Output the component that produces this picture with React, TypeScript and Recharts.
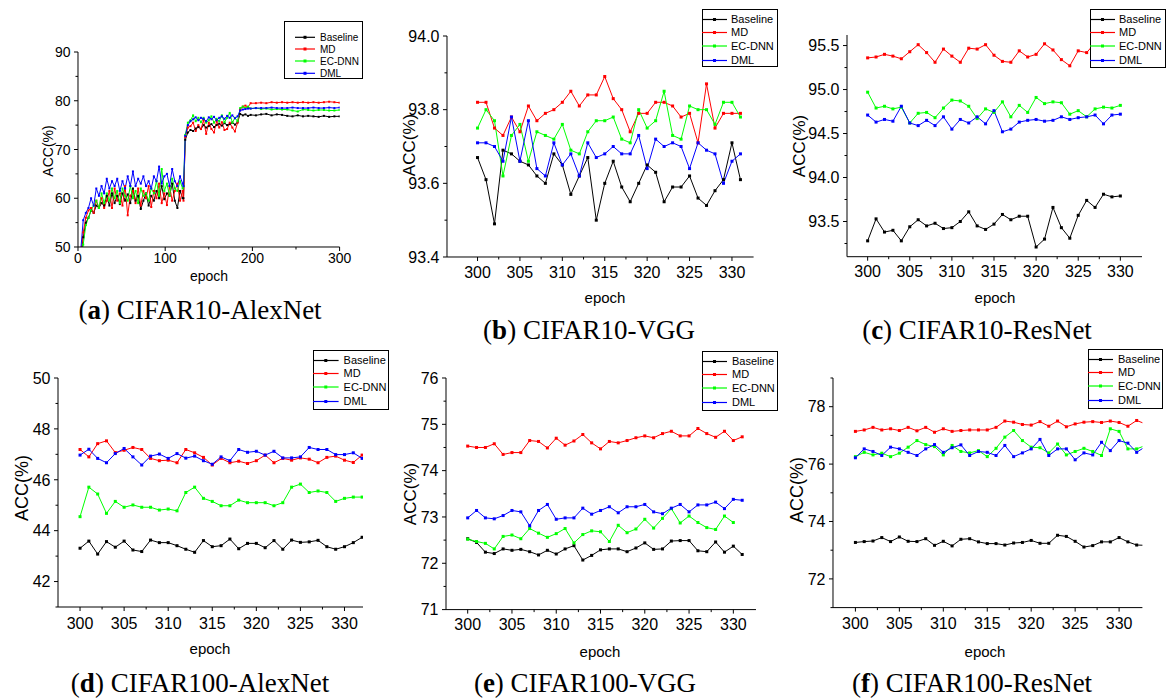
import React from 'react';
import { LineChart, Line, XAxis, YAxis } from 'recharts';

const SANS = '"Liberation Sans", Arial, sans-serif';
const SERIF = '"Liberation Serif", "Times New Roman", serif';

const seriesNames = ['Baseline', 'MD', 'EC-DNN', 'DML'];
const seriesColors = ['#000000', '#ff0000', '#00ff00', '#0000ff'];

// (a) CIFAR10-AlexNet
const epochsA = [3, 6, 9, 12, 15, 18, 21, 24, 27, 30, 33, 36, 39, 42, 45, 48, 51, 54, 57, 60, 63, 66, 69, 72, 75, 78, 81, 84, 87, 90, 93, 96, 99, 102, 105, 108, 111, 114, 117, 120, 121, 123, 126, 129, 132, 135, 138, 141, 144, 147, 150, 153, 156, 159, 162, 165, 168, 171, 174, 177, 180, 183, 186, 189, 192, 195, 198, 204, 210, 216, 222, 228, 234, 240, 246, 252, 258, 264, 270, 276, 282, 288, 294, 300];
const baselineA = [47, 52, 55, 56, 57.5, 57, 58.5, 58, 59, 58.5, 60.5, 58.5, 61, 59, 60.5, 58.8, 61, 59.5, 60.8, 59, 62, 59.5, 60.5, 57.8, 59.5, 61, 58.5, 60.5, 59.5, 61.5, 60, 62.5, 59.8, 61, 60.5, 63, 59.5, 58, 61.5, 60, 60, 72, 73.5, 74, 73.8, 74.3, 74.6, 74.2, 75, 74.5, 74.8, 75.2, 74.6, 75, 75.3, 74.9, 75.4, 75, 75.2, 75.5, 75.1, 75.6, 77.3, 77, 77.2, 76.9, 77.1, 77, 77.2, 77.3, 77, 77.2, 77.1, 76.9, 76.8, 77, 76.8, 76.9, 76.8, 76.7, 76.9, 76.7, 76.8, 76.8];
const mdA = [48, 53, 56, 57.5, 58, 57, 59.5, 58, 60, 58, 59.5, 61.5, 58, 62, 59.5, 61, 58.5, 62.5, 56.5, 60.5, 61.5, 59, 62, 58.5, 61.5, 60, 62.5, 58.2, 61.5, 60, 63, 59, 61, 58.6, 62.5, 59.5, 61.5, 63, 59.5, 61.5, 59.5, 72.5, 74.5, 74.8, 75.5, 73.8, 75, 74.2, 76, 73.2, 75.5, 74.2, 73.5, 75.8, 74.5, 75.6, 74, 74.2, 75.5, 74.5, 73.7, 75.5, 78.2, 78.8, 79, 78.7, 79.5, 79.5, 79.6, 79.5, 79.7, 79.6, 79.7, 79.6, 79.7, 79.6, 79.7, 79.6, 79.7, 79.6, 79.7, 79.8, 79.7, 79.6];
const ecdnnA = [46, 50.5, 54.5, 56, 57.5, 58.5, 59.5, 58, 61, 59, 61, 59.5, 62, 60, 61.5, 59, 62, 60.5, 59.5, 62.5, 60, 61.5, 59, 62, 60.5, 61, 59.5, 62, 61, 63.5, 60.5, 66, 61.5, 63, 60.5, 64, 62, 61.5, 63.5, 62, 62.5, 73, 75.5, 76, 77, 75.8, 76.5, 75.6, 76.5, 75.5, 76, 76.8, 75.5, 76.3, 75.8, 77, 75.6, 76.5, 77.5, 75.5, 76.5, 75.8, 78.5, 78.8, 78.5, 78.8, 78.4, 78.5, 78.3, 78.4, 78.2, 78.3, 78.2, 78.2, 78, 77.8, 78.2, 78.1, 78, 78.1, 78.1, 78, 78, 78.1];
const dmlA = [49, 55.5, 57, 58, 60, 58.5, 62, 60.5, 62.5, 61, 64, 62, 63.5, 62.5, 64, 61.5, 63.5, 62, 64.5, 62.5, 65.5, 62.5, 64, 63, 64.5, 62.5, 63.5, 62, 64.5, 63.5, 66.5, 63, 64.5, 65, 62.5, 66, 63.5, 62.5, 64.5, 63, 62.5, 72.8, 75, 75.8, 76.2, 76.6, 76, 76.5, 76.3, 75.8, 76.6, 76.2, 76.7, 76, 76.5, 76.8, 76.3, 76.9, 76.5, 77, 76.4, 76.8, 78, 78.2, 78.3, 78.4, 78.4, 78.5, 78.5, 78.5, 78.6, 78.5, 78.5, 78.5, 78.6, 78.5, 78.5, 78.5, 78.6, 78.5, 78.5, 78.6, 78.5, 78.6];

// (b) CIFAR10-VGG
const epochsB = [300, 301, 302, 303, 304, 305, 306, 307, 308, 309, 310, 311, 312, 313, 314, 315, 316, 317, 318, 319, 320, 321, 322, 323, 324, 325, 326, 327, 328, 329, 330, 331];
const baselineB = [93.67, 93.61, 93.49, 93.69, 93.68, 93.66, 93.65, 93.62, 93.6, 93.68, 93.65, 93.57, 93.62, 93.67, 93.5, 93.6, 93.66, 93.59, 93.55, 93.6, 93.65, 93.63, 93.55, 93.59, 93.59, 93.62, 93.56, 93.54, 93.58, 93.61, 93.71, 93.61];
const mdB = [93.82, 93.82, 93.75, 93.73, 93.78, 93.74, 93.81, 93.77, 93.79, 93.8, 93.82, 93.85, 93.81, 93.84, 93.84, 93.89, 93.83, 93.8, 93.74, 93.79, 93.79, 93.82, 93.82, 93.81, 93.78, 93.79, 93.71, 93.87, 93.75, 93.79, 93.79, 93.79];
const ecdnnB = [93.75, 93.8, 93.77, 93.62, 93.73, 93.76, 93.66, 93.74, 93.73, 93.72, 93.76, 93.69, 93.68, 93.74, 93.77, 93.77, 93.78, 93.72, 93.71, 93.8, 93.75, 93.77, 93.85, 93.73, 93.72, 93.81, 93.8, 93.8, 93.76, 93.82, 93.82, 93.78];
const dmlB = [93.71, 93.71, 93.7, 93.66, 93.78, 93.66, 93.77, 93.64, 93.62, 93.71, 93.65, 93.68, 93.62, 93.71, 93.67, 93.68, 93.7, 93.68, 93.68, 93.73, 93.64, 93.72, 93.7, 93.71, 93.7, 93.64, 93.71, 93.69, 93.68, 93.6, 93.66, 93.68];

// (c) CIFAR10-ResNet
const epochsC = [300, 301, 302, 303, 304, 305, 306, 307, 308, 309, 310, 311, 312, 313, 314, 315, 316, 317, 318, 319, 320, 321, 322, 323, 324, 325, 326, 327, 328, 329, 330];
const baselineC = [93.28, 93.53, 93.38, 93.4, 93.28, 93.44, 93.52, 93.45, 93.48, 93.42, 93.43, 93.5, 93.61, 93.45, 93.41, 93.47, 93.58, 93.52, 93.56, 93.56, 93.21, 93.3, 93.66, 93.43, 93.31, 93.57, 93.74, 93.66, 93.81, 93.78, 93.79];
const mdC = [95.36, 95.37, 95.4, 95.38, 95.35, 95.43, 95.51, 95.42, 95.31, 95.46, 95.38, 95.31, 95.47, 95.46, 95.51, 95.39, 95.32, 95.31, 95.44, 95.37, 95.4, 95.52, 95.45, 95.34, 95.27, 95.44, 95.42, 95.53, 95.45, 95.4, 95.42];
const ecdnnC = [94.97, 94.79, 94.81, 94.78, 94.8, 94.62, 94.73, 94.74, 94.68, 94.79, 94.88, 94.87, 94.81, 94.67, 94.78, 94.74, 94.86, 94.69, 94.82, 94.74, 94.91, 94.84, 94.86, 94.85, 94.72, 94.76, 94.69, 94.78, 94.8, 94.79, 94.82];
const dmlC = [94.71, 94.63, 94.66, 94.64, 94.81, 94.62, 94.59, 94.65, 94.59, 94.69, 94.55, 94.66, 94.62, 94.69, 94.61, 94.76, 94.52, 94.55, 94.63, 94.65, 94.66, 94.64, 94.65, 94.69, 94.66, 94.68, 94.69, 94.71, 94.61, 94.71, 94.72];

// (d) CIFAR100-AlexNet
const epochsD = [300, 301, 302, 303, 304, 305, 306, 307, 308, 309, 310, 311, 312, 313, 314, 315, 316, 317, 318, 319, 320, 321, 322, 323, 324, 325, 326, 327, 328, 329, 330, 331, 332];
const baselineD = [43.31, 43.59, 43.08, 43.57, 43.35, 43.59, 43.24, 43.18, 43.63, 43.53, 43.53, 43.41, 43.27, 43.15, 43.61, 43.37, 43.41, 43.67, 43.29, 43.5, 43.5, 43.33, 43.61, 43.27, 43.63, 43.54, 43.56, 43.62, 43.37, 43.27, 43.37, 43.53, 43.74];
const mdD = [47.19, 46.9, 47.42, 47.53, 47.07, 47.16, 47.27, 47.19, 46.84, 46.75, 46.77, 46.67, 47.19, 47.06, 46.88, 46.58, 46.84, 46.67, 46.73, 46.64, 46.75, 46.97, 46.67, 46.84, 46.77, 46.86, 46.81, 46.67, 46.88, 46.93, 46.77, 46.68, 46.97];
const ecdnnD = [44.55, 45.71, 45.44, 44.68, 45.15, 44.92, 45.01, 44.92, 44.92, 44.81, 44.85, 44.78, 45.5, 45.71, 45.27, 45.15, 44.98, 44.98, 45.2, 45.1, 45.1, 45.1, 44.98, 45.1, 45.71, 45.83, 45.5, 45.56, 45.5, 45.15, 45.27, 45.32, 45.32];
const dmlD = [46.97, 47.2, 46.84, 46.67, 47.03, 47.23, 46.9, 46.58, 46.93, 47.01, 46.84, 47.03, 46.85, 46.93, 46.75, 46.61, 46.9, 46.75, 47.19, 47.08, 47.12, 46.97, 47.12, 46.86, 46.86, 46.9, 47.27, 47.19, 47.19, 46.99, 46.99, 47.06, 46.84];

// (e) CIFAR100-VGG
const epochsE = [300, 301, 302, 303, 304, 305, 306, 307, 308, 309, 310, 311, 312, 313, 314, 315, 316, 317, 318, 319, 320, 321, 322, 323, 324, 325, 326, 327, 328, 329, 330, 331];
const baselineE = [72.53, 72.45, 72.24, 72.21, 72.31, 72.28, 72.3, 72.25, 72.18, 72.28, 72.2, 72.31, 72.38, 72.07, 72.17, 72.29, 72.31, 72.31, 72.25, 72.33, 72.44, 72.3, 72.31, 72.48, 72.49, 72.49, 72.27, 72.25, 72.46, 72.24, 72.37, 72.19];
const mdE = [74.53, 74.5, 74.5, 74.58, 74.35, 74.39, 74.39, 74.65, 74.63, 74.49, 74.7, 74.55, 74.64, 74.78, 74.6, 74.47, 74.63, 74.6, 74.65, 74.71, 74.75, 74.71, 74.8, 74.85, 74.75, 74.75, 74.91, 74.8, 74.72, 74.85, 74.65, 74.73];
const ecdnnE = [72.52, 72.47, 72.43, 72.31, 72.58, 72.61, 72.53, 72.75, 72.65, 72.56, 72.64, 72.75, 72.44, 72.62, 72.7, 72.68, 72.47, 72.82, 72.66, 72.74, 72.95, 72.76, 72.97, 73.18, 72.87, 73.02, 72.88, 72.77, 72.73, 73.02, 72.88];
const dmlE = [72.98, 73.14, 72.98, 72.96, 73.03, 73.14, 73.11, 72.81, 73.14, 73.27, 72.95, 72.98, 72.98, 73.19, 73.06, 73.14, 73.22, 73.09, 73.22, 73.22, 73.27, 73.11, 73.07, 73.19, 73.27, 73.11, 73.26, 73.26, 73.32, 73.18, 73.38, 73.36];

// (f) CIFAR100-ResNet
const epochsF = [300, 301, 302, 303, 304, 305, 306, 307, 308, 309, 310, 311, 312, 313, 314, 315, 316, 317, 318, 319, 320, 321, 322, 323, 324, 325, 326, 327, 328, 329, 330, 331, 332, 333];
const baselineF = [73.27, 73.3, 73.32, 73.44, 73.3, 73.46, 73.31, 73.3, 73.4, 73.17, 73.31, 73.15, 73.38, 73.4, 73.29, 73.23, 73.23, 73.18, 73.25, 73.27, 73.34, 73.24, 73.24, 73.52, 73.48, 73.31, 73.11, 73.16, 73.29, 73.29, 73.44, 73.29, 73.18, 73.17];
const mdF = [77.14, 77.19, 77.28, 77.19, 77.23, 77.17, 77.28, 77.16, 77.28, 77.11, 77.23, 77.14, 77.17, 77.19, 77.19, 77.19, 77.28, 77.5, 77.46, 77.38, 77.36, 77.48, 77.32, 77.5, 77.3, 77.4, 77.46, 77.48, 77.45, 77.5, 77.45, 77.32, 77.52, 77.4];
const ecdnnF = [76.26, 76.41, 76.32, 76.38, 76.26, 76.38, 76.59, 76.82, 76.68, 76.61, 76.32, 76.65, 76.44, 76.39, 76.47, 76.26, 76.55, 76.94, 77.17, 76.82, 76.59, 76.57, 76.39, 76.7, 76.32, 76.44, 76.55, 76.44, 76.3, 77.23, 77.14, 76.53, 76.53, 76.65];
const dmlF = [76.22, 76.53, 76.44, 76.3, 76.59, 76.53, 76.41, 76.3, 76.53, 76.68, 76.41, 76.57, 76.67, 76.3, 76.44, 76.41, 76.3, 76.65, 76.26, 76.39, 76.53, 76.86, 76.3, 76.53, 76.53, 76.15, 76.39, 76.32, 76.76, 76.47, 76.82, 76.73, 76.41, 76.61];

const toRows = (epochs: number[], b: number[], m: number[], e: number[], d: number[]) =>
  epochs.map((ep, i) => ({ epoch: ep, Baseline: b[i], MD: m[i], 'EC-DNN': e[i], DML: d[i] }));

const XTick = (props: any) => {
  const { x, y, payload, majors, fs, labelDy } = props;
  const major = majors.includes(payload.value);
  return (
    <g>
      <line x1={x} y1={y} x2={x} y2={y + (major ? 4 : 2.5)} stroke="#000" strokeWidth={1} />
      {major && (
        <text x={x} y={y + labelDy} textAnchor="middle" fontSize={fs} fontFamily={SANS} fill="#000">
          {payload.value}
        </text>
      )}
    </g>
  );
};

const YTick = (props: any) => {
  const { x, y, payload, majors, fs, digits } = props;
  const major = majors.includes(payload.value);
  return (
    <g>
      <line x1={x - (major ? 4 : 2.5)} y1={y} x2={x} y2={y} stroke="#000" strokeWidth={1} />
      {major && (
        <text x={x - 7.5} y={y} dy="0.36em" textAnchor="end" fontSize={fs} fontFamily={SANS} fill="#000">
          {payload.value.toFixed(digits)}
        </text>
      )}
    </g>
  );
};

const SquareDot = (props: any) => {
  const { cx, cy, stroke, size, index } = props;
  if (cx == null || cy == null) return <g key={`n-${index}`} />;
  return <rect key={`d-${index}`} x={cx - size / 2} y={cy - size / 2} width={size} height={size} fill={stroke} />;
};

function LegendBox(p: any) {
  return (
    <div style={{ position: 'absolute', left: p.left, top: p.top, width: p.width, height: p.height, border: '1px solid #000', background: '#fff', boxSizing: 'border-box' }}>
      <svg width={p.width} height={p.height} style={{ position: 'absolute', left: -1, top: -1, overflow: 'visible' }}>
        {seriesNames.map((n, i) => (
          <g key={n}>
            <line x1={p.lineX0} x2={p.lineX1} y1={p.rows[i]} y2={p.rows[i]} stroke={seriesColors[i]} strokeWidth={1.2} />
            <rect x={(p.lineX0 + p.lineX1) / 2 - 1.5} y={p.rows[i] - 1.5} width={3} height={3} fill={seriesColors[i]} />
            <text x={p.textX} y={p.rows[i]} dy="0.36em" fontSize={p.fs} fontFamily={SANS} fill="#000">{n}</text>
          </g>
        ))}
      </svg>
    </div>
  );
}

function Panel(p: any) {
  const YW = 60, MT = 12, MR = 14, XH = 34;
  const plotW = p.right - p.ax;
  const plotH = p.bottom - p.top;
  return (
    <>
      <div style={{ position: 'absolute', left: p.ax - YW, top: p.top - MT }}>
        <LineChart width={YW + plotW + MR} height={MT + plotH + XH} data={p.data} margin={{ top: MT, right: MR, bottom: 0, left: 0 }}>
          <XAxis
            dataKey="epoch"
            type="number"
            domain={p.xDomain}
            allowDataOverflow
            ticks={[...p.xMajor, ...p.xMinor]}
            interval={0}
            tickSize={0}
            tickMargin={0}
            height={XH}
            axisLine={{ stroke: '#000', strokeWidth: 1 }}
            tickLine={false}
            tick={(t: any) => <XTick {...t} majors={p.xMajor} fs={p.fs} labelDy={p.xLabelDy} />}
          />
          <YAxis
            type="number"
            domain={p.yDomain}
            allowDataOverflow
            ticks={[...p.yMajor, ...p.yMinor]}
            interval={0}
            tickSize={0}
            tickMargin={0}
            width={YW}
            axisLine={{ stroke: '#000', strokeWidth: 1 }}
            tickLine={false}
            tick={(t: any) => <YTick {...t} majors={p.yMajor} fs={p.fs} digits={p.digits} />}
          />
          {seriesNames.map((n, i) => (
            <Line
              key={n}
              type="linear"
              dataKey={n}
              stroke={seriesColors[i]}
              strokeWidth={1}
              dot={(d: any) => <SquareDot {...d} size={p.dotSize} />}
              activeDot={false}
              isAnimationActive={false}
            />
          ))}
        </LineChart>
      </div>
      <div style={{ position: 'absolute', left: p.accX, top: p.accY, transform: 'translate(-50%,-50%) rotate(-90deg)', fontFamily: SANS, fontSize: p.accFs, whiteSpace: 'nowrap', lineHeight: 1 }}>
        ACC(%)
      </div>
      <div style={{ position: 'absolute', left: p.epochX, top: p.epochY, transform: 'translate(-50%,-50%)', fontFamily: SANS, fontSize: p.epochFs, whiteSpace: 'nowrap', lineHeight: 1 }}>
        epoch
      </div>
      <LegendBox {...p.legend} />
      <div style={{ position: 'absolute', left: p.capX, top: p.capY, transform: 'translateX(-50%)', fontFamily: SERIF, fontSize: 27, lineHeight: '27px', whiteSpace: 'nowrap', color: '#000' }}>
        (<b>{p.capLetter}</b>) {p.capText}
      </div>
    </>
  );
}

const xMajorLate = [300, 305, 310, 315, 320, 325, 330];
const xMinorLate = [302.5, 307.5, 312.5, 317.5, 322.5, 327.5];
const legendRows = [10.5, 23.5, 37, 51.5];

export default function App() {
  return (
    <div style={{ position: 'absolute', left: 0, top: 0, width: 1166, height: 700, background: '#fff', overflow: 'hidden' }}>
      <Panel
        data={toRows(epochsA, baselineA, mdA, ecdnnA, dmlA)}
        ax={77.7} top={51.7} right={339.3} bottom={246.7}
        xDomain={[0, 300]} yDomain={[50, 90]}
        xMajor={[0, 100, 200, 300]} xMinor={[50, 150, 250]}
        yMajor={[50, 60, 70, 80, 90]} yMinor={[55, 65, 75, 85]}
        digits={0} fs={14} xLabelDy={16.5} dotSize={2}
        accX={47.5} accY={150.8} accFs={14}
        epochX={209} epochY={276} epochFs={14}
        legend={{ left: 284, top: 21, width: 79, height: 58, rows: [16.3, 28, 40, 52.3], lineX0: 11, lineX1: 31, textX: 36, fs: 10 }}
        capX={200} capY={297.4} capLetter="a" capText="CIFAR10-AlexNet"
      />
      <Panel
        data={toRows(epochsB, baselineB, mdB, ecdnnB, dmlB)}
        ax={446.7} top={35.7} right={753.3} bottom={256.7}
        xDomain={[296.4, 332.55]} yDomain={[93.4, 94.0]}
        xMajor={xMajorLate} xMinor={xMinorLate}
        yMajor={[93.4, 93.6, 93.8, 94.0]} yMinor={[93.5, 93.7, 93.9]}
        digits={1} fs={16} xLabelDy={20.8} dotSize={3}
        accX={408.8} accY={145} accFs={17}
        epochX={605} epochY={296.7} epochFs={15}
        legend={{ left: 702, top: 9, width: 76, height: 58, rows: legendRows, lineX0: 0, lineX1: 25, textX: 29, fs: 11 }}
        capX={589} capY={317.4} capLetter="b" capText="CIFAR10-VGG"
      />
      <Panel
        data={toRows(epochsC, baselineC, mdC, ecdnnC, dmlC)}
        ax={846.7} top={35} right={1141.7} bottom={256.7}
        xDomain={[297.55, 332.57]} yDomain={[93.1, 95.62]}
        xMajor={xMajorLate} xMinor={xMinorLate}
        yMajor={[93.5, 94.0, 94.5, 95.0, 95.5]} yMinor={[93.25, 93.75, 94.25, 94.75, 95.25]}
        digits={1} fs={16} xLabelDy={20.8} dotSize={3}
        accX={798.8} accY={145.8} accFs={17}
        epochX={995} epochY={296.7} epochFs={15}
        legend={{ left: 1090, top: 9, width: 76, height: 59, rows: legendRows, lineX0: 0, lineX1: 25, textX: 29, fs: 11 }}
        capX={977} capY={317.4} capLetter="c" capText="CIFAR10-ResNet"
      />
      <Panel
        data={toRows(epochsD, baselineD, mdD, ecdnnD, dmlD)}
        ax={58.3} top={377.7} right={363.3} bottom={606.7}
        xDomain={[297.5, 332.1]} yDomain={[41, 50]}
        xMajor={xMajorLate} xMinor={xMinorLate}
        yMajor={[42, 44, 46, 48, 50]} yMinor={[41, 43, 45, 47, 49]}
        digits={0} fs={16} xLabelDy={21.5} dotSize={3}
        accX={22} accY={488} accFs={18}
        epochX={210} epochY={648} epochFs={15}
        legend={{ left: 312.7, top: 350, width: 76, height: 60, rows: legendRows, lineX0: 0, lineX1: 25.6, textX: 30.6, fs: 11 }}
        capX={200} capY={670.4} capLetter="d" capText="CIFAR100-AlexNet"
      />
      <Panel
        data={toRows(epochsE, baselineE, mdE, ecdnnE, dmlE)}
        ax={446} top={377.7} right={756} bottom={609.3}
        xDomain={[297.55, 332.56]} yDomain={[71, 76]}
        xMajor={xMajorLate} xMinor={xMinorLate}
        yMajor={[71, 72, 73, 74, 75, 76]} yMinor={[71.5, 72.5, 73.5, 74.5, 75.5]}
        digits={0} fs={16} xLabelDy={20.5} dotSize={3}
        accX={410} accY={494} accFs={17}
        epochX={600} epochY={651} epochFs={15}
        legend={{ left: 701.7, top: 351, width: 76, height: 60, rows: legendRows, lineX0: 0, lineX1: 25, textX: 30, fs: 11 }}
        capX={585} capY={670.4} capLetter="e" capText="CIFAR100-VGG"
      />
      <Panel
        data={toRows(epochsF, baselineF, mdF, ecdnnF, dmlF)}
        ax={833.3} top={377.7} right={1142.7} bottom={607.3}
        xDomain={[297.45, 332.65]} yDomain={[71, 79]}
        xMajor={xMajorLate} xMinor={xMinorLate}
        yMajor={[72, 74, 76, 78]} yMinor={[71, 73, 75, 77, 79]}
        digits={0} fs={16} xLabelDy={21} dotSize={3}
        accX={797} accY={490} accFs={18}
        epochX={985} epochY={651} epochFs={15}
        legend={{ left: 1088.3, top: 349.3, width: 75, height: 60, rows: legendRows, lineX0: 0, lineX1: 25, textX: 30, fs: 11 }}
        capX={972} capY={670.4} capLetter="f" capText="CIFAR100-ResNet"
      />
    </div>
  );
}
